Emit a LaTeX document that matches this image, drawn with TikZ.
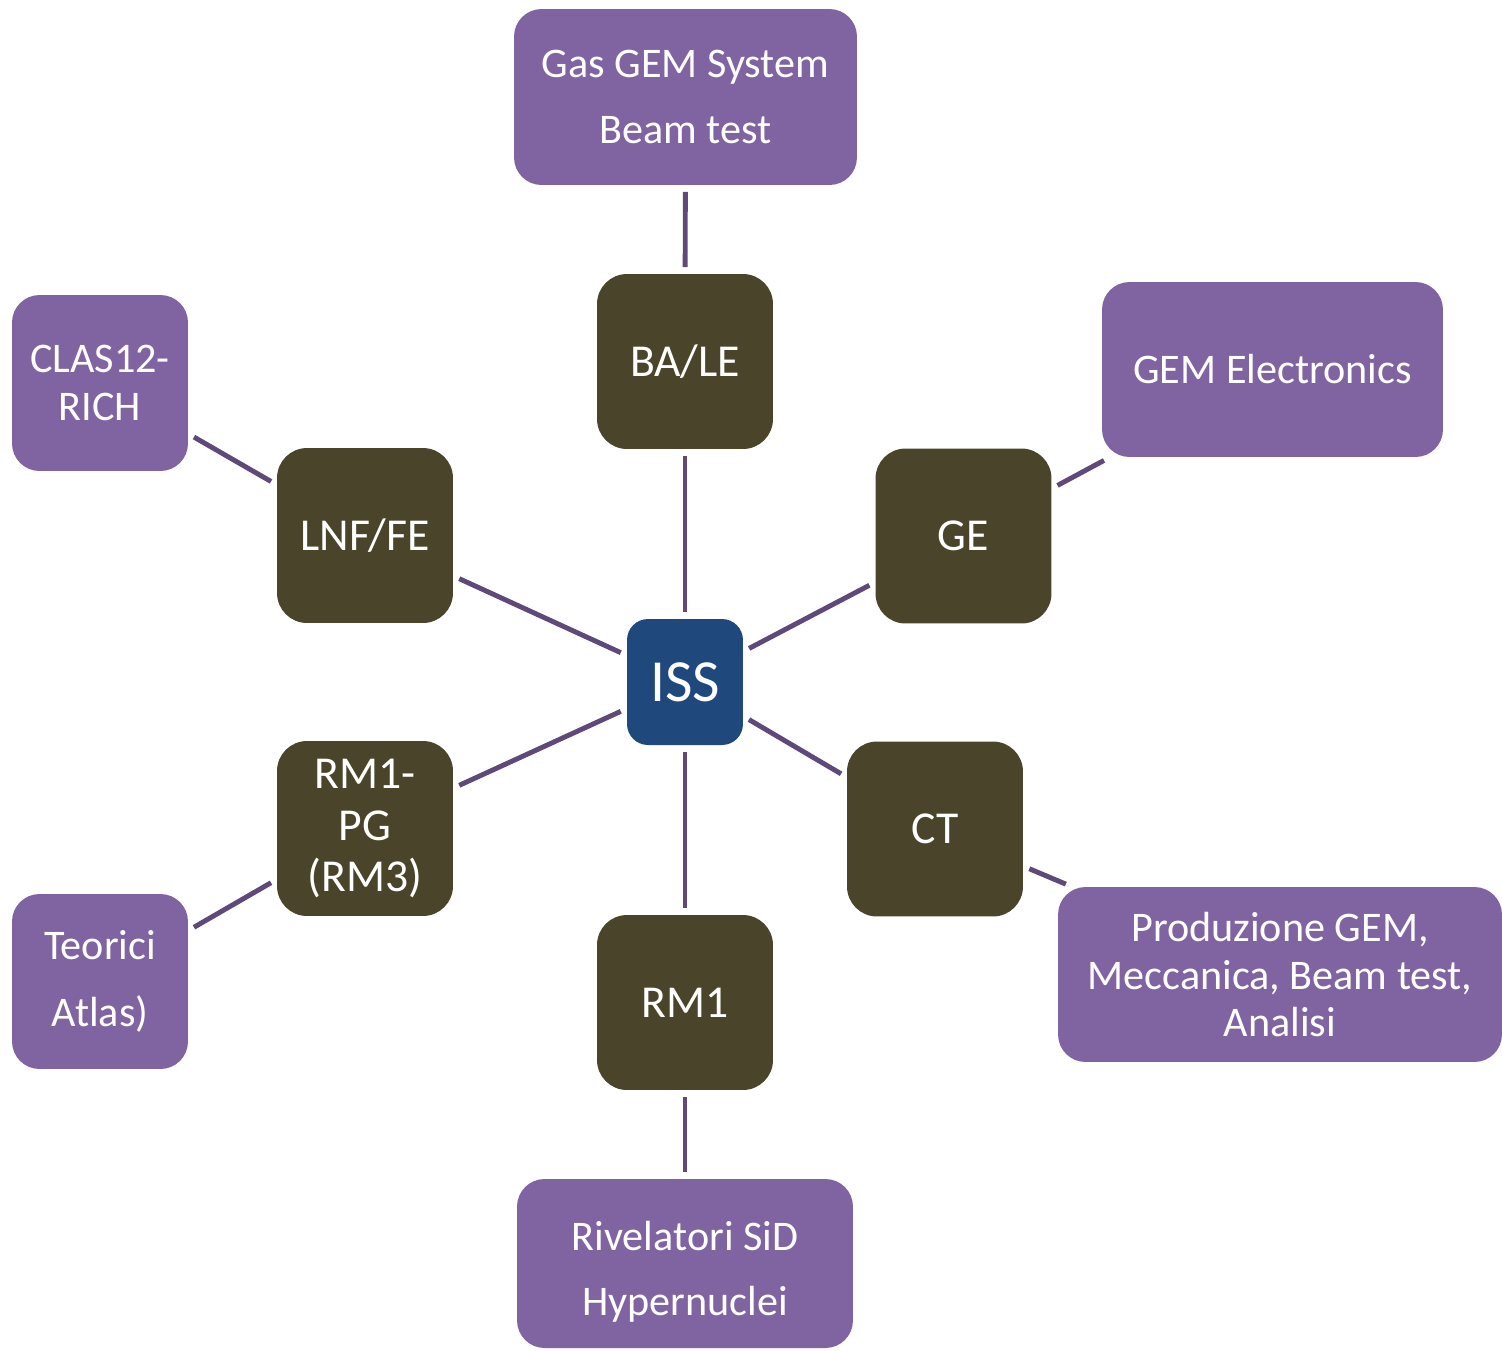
\documentclass[tikz,border=0pt]{standalone}
\usepackage{fontspec}
\setmainfont{Carlito}
\definecolor{purplefill}{HTML}{8064A2}
\definecolor{darkfill}{HTML}{4A452A}
\definecolor{issfill}{HTML}{1F497D}
\definecolor{linkcol}{HTML}{5F497A}
\begin{document}
\begin{tikzpicture}[x=0.02cm,y=-0.02cm,
  purplebox/.style={fill=purplefill, text=white, rounded corners=0.55cm, align=center, inner sep=0pt},
  darkbox/.style={fill=darkfill, text=white, rounded corners=0.6cm, align=center, inner sep=0pt, minimum width=3.52cm, minimum height=3.5cm, font=\fontsize{26}{29.3}\selectfont},
  issbox/.style={fill=issfill, text=white, rounded corners=0.42cm, align=center, inner sep=0pt, minimum width=2.32cm, minimum height=2.52cm, font=\fontsize{34}{40}\selectfont},
  link/.style={draw=linkcol, line width=2.8pt, shorten <=0.13cm, shorten >=0.13cm}]
\path[use as bounding box] (0,0) rectangle (1502,1350);
\clip (0,0) rectangle (1502,1350);

% centre
\node[issbox] (iss) at (685,682) {ISS};

% dark boxes
\node[darkbox] (bale) at (685,361.5) {BA/LE};
\node[darkbox] (lnf)  at (365,535.5) {LNF/FE};
\node[darkbox] (ge)   at (963.5,536) {GE};
\node[darkbox] (rmpg) at (365,828.5) {RM1-\\PG\\(RM3)};
\node[darkbox] (ct)   at (935,829) {CT};
\node[darkbox] (rm1)  at (685,1002.5) {RM1};

% purple boxes
\node[purplebox, minimum width=6.86cm, minimum height=3.52cm, font=\fontsize{24}{37.5}\selectfont] (gas) at (685.5,97) {Gas GEM System\\Beam test};
\node[purplebox, minimum width=3.52cm, minimum height=3.52cm, font=\fontsize{24}{27}\selectfont] (clas) at (100,383) {CLAS12-\\RICH};
\node[purplebox, minimum width=6.82cm, minimum height=3.5cm, font=\fontsize{24}{27}\selectfont] (gemel) at (1272.5,369.5) {GEM Electronics};
\node[purplebox, minimum width=3.52cm, minimum height=3.5cm, font=\fontsize{24}{38}\selectfont] (teo) at (100,981.5) {Teorici\\Atlas)};
\node[purplebox, minimum width=8.88cm, minimum height=3.5cm, font=\fontsize{24}{27}\selectfont] (prod) at (1280,974.5) {Produzione GEM,\\Meccanica, Beam test,\\Analisi};
\node[purplebox, minimum width=6.72cm, minimum height=3.38cm, font=\fontsize{24}{37.5}\selectfont] (riv) at (685,1263.5) {\rule{0pt}{26pt}Rivelatori SiD\\Hypernuclei};

% connectors
\draw[link] (bale) -- (gas);
\draw[link] (bale) -- (iss);
\draw[link] (lnf) -- (iss);
\draw[link] (ge) -- (iss);
\draw[link] (rmpg) -- (iss);
\draw[link] (ct) -- (iss);
\draw[link] (rm1) -- (iss);
\draw[link] (clas) -- (lnf);
\draw[link] (gemel) -- (ge);
\draw[link] (teo) -- (rmpg);
\draw[link] (ct) -- (prod);
\draw[link] (rm1) -- (riv);
\end{tikzpicture}
\end{document}
